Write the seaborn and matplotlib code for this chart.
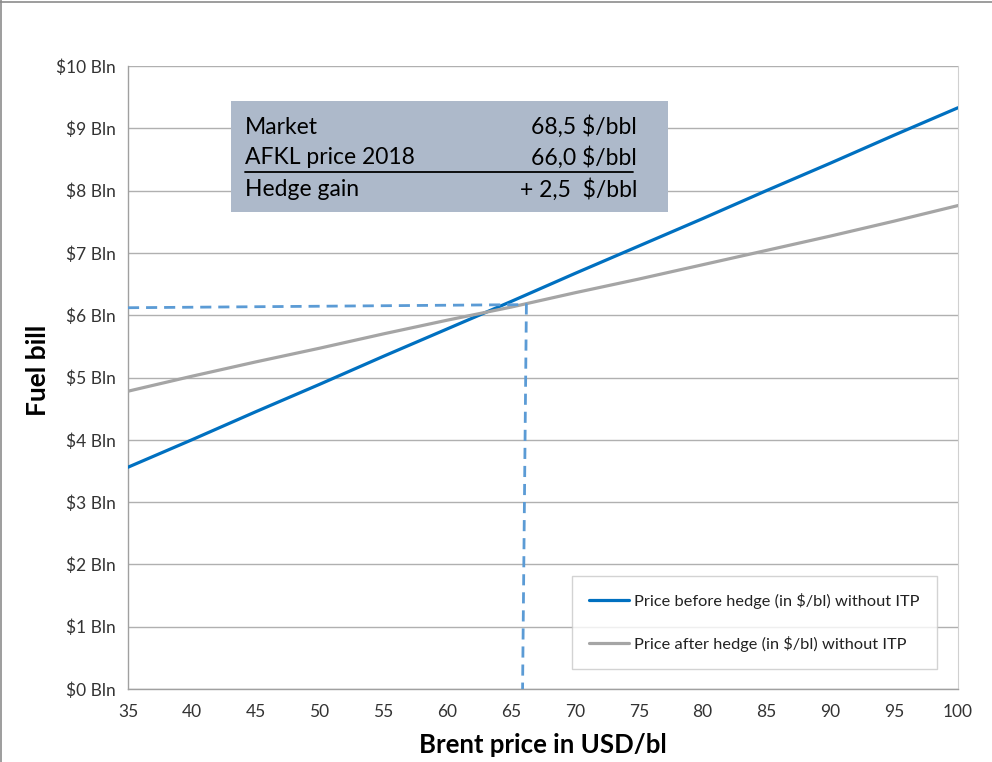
import numpy as np
import pandas as pd
import matplotlib
matplotlib.use("Agg")
import matplotlib.pyplot as plt
from matplotlib.patches import Rectangle
from matplotlib.lines import Line2D
import seaborn as sns

# Brent price grid (USD/bl) and fuel bill (USD billions)
brent = [35, 40, 45, 50, 55, 60, 65, 70, 75, 80, 85, 90, 95, 100]
before_hedge = [3.56, 4.00, 4.45, 4.89, 5.34, 5.78, 6.22, 6.67, 7.11, 7.55, 8.00, 8.44, 8.89, 9.33]
after_hedge = [4.78, 5.02, 5.25, 5.47, 5.70, 5.92, 6.13, 6.36, 6.58, 6.81, 7.04, 7.27, 7.51, 7.76]
series_names = ["Price before hedge (in $/bl) without ITP",
                "Price after hedge (in $/bl) without ITP"]

# Reference guide at the hedged price
guide_x = [35, 66.2, 65.9]
guide_y = [6.12, 6.17, 0.0]

y_ticks = list(range(0, 11))
y_tick_labels = [f"${v} Bln" for v in y_ticks]
x_ticks = list(range(35, 101, 5))

box_rows = [("Market", "68,5 $/bbl"),
            ("AFKL price 2018", "66,0 $/bbl"),
            ("Hedge gain", "+ 2,5  $/bbl")]

sns.set_style("white")
plt.rcParams["font.family"] = ["Lato", "DejaVu Sans"]
plt.rcParams["text.parse_math"] = False

W, H = 992, 762
fig = plt.figure(figsize=(W / 100, H / 100), dpi=100)


def fx(px):
    return px / W


def fy(py):
    return 1 - py / H


ax = fig.add_axes([fx(128), fy(689), fx(958) - fx(128), fy(66) - fy(689)])

df = pd.DataFrame({
    "brent": brent * 2,
    "bill": before_hedge + after_hedge,
    "series": [series_names[0]] * len(brent) + [series_names[1]] * len(brent),
})
colors = {series_names[0]: "#0070c0", series_names[1]: "#a5a5a5"}
sns.lineplot(data=df, x="brent", y="bill", hue="series", palette=colors,
             linewidth=2.3, ax=ax, legend=False, zorder=3)

ax.plot(guide_x, guide_y, color="#5b9bd5", linestyle=(0, (4, 2.5)),
        linewidth=2.0, zorder=4, clip_on=False)

ax.set_xlim(35, 100)
ax.set_ylim(0, 10)
ax.set_xticks(x_ticks)
ax.set_xticklabels([str(v) for v in x_ticks], fontsize=12.5, color="#333333")
ax.set_yticks(y_ticks)
ax.set_yticklabels(y_tick_labels, fontsize=12.5, color="#333333")
ax.yaxis.grid(True, color="#b0b0b0", linewidth=1.0)
ax.xaxis.grid(False)
ax.set_axisbelow(True)
for side in ["left", "bottom"]:
    ax.spines[side].set_color("#a0a0a0")
    ax.spines[side].set_linewidth(1.0)
ax.spines["right"].set_color("#d0d0d0")
ax.spines["top"].set_visible(False)
ax.tick_params(axis="both", which="both", direction="out", length=5,
               width=1, color="#a0a0a0", pad=4)
ax.tick_params(axis="x", pad=6)

ax.set_xlabel("")
ax.set_ylabel("")
fig.text(fx(543), fy(745), "Brent price in USD/bl", ha="center", va="center",
         fontsize=18.5, fontweight="bold", color="black")
fig.text(fx(38), fy(370), "Fuel bill", ha="center", va="center", rotation=90,
         fontsize=19, fontweight="bold", color="black")

# Summary box
fig.add_artist(Rectangle((fx(231), fy(212)), fx(668) - fx(231), fy(101) - fy(212),
                         transform=fig.transFigure, facecolor="#adb9ca",
                         edgecolor="none", zorder=5))
row_y = [127, 158, 190]
for (label, value), py in zip(box_rows, row_y):
    fig.text(fx(245), fy(py), label, ha="left", va="center", fontsize=16.5,
             color="black", zorder=6)
    fig.text(fx(637), fy(py), value, ha="right", va="center", fontsize=16.5,
             color="black", zorder=6)
fig.add_artist(Line2D([fx(245), fx(633)], [fy(172), fy(172)],
                      transform=fig.transFigure, color="black", linewidth=1.3,
                      zorder=6))

# Legend
handles = [Line2D([0], [0], color=colors[n], linewidth=2.3) for n in series_names]
leg = ax.legend(handles, series_names, loc="lower right",
                bbox_to_anchor=(fx(937), fy(669)), bbox_transform=fig.transFigure,
                fontsize=11.8, frameon=True, fancybox=False, edgecolor="#c8c8c8",
                handlelength=2.4, handletextpad=0.35, labelspacing=1.65,
                borderpad=1.05, borderaxespad=0)
leg.get_frame().set_linewidth(1.0)
for t in leg.get_texts():
    t.set_color("#222222")

# Slide border
fig.add_artist(Line2D([0, 1], [fy(2), fy(2)], transform=fig.transFigure,
                      color="#8c8c8c", linewidth=1.2))
fig.add_artist(Line2D([fx(1), fx(1)], [0, 1], transform=fig.transFigure,
                      color="#8c8c8c", linewidth=1.2))

fig.savefig("out.png", dpi=100, facecolor="white")
